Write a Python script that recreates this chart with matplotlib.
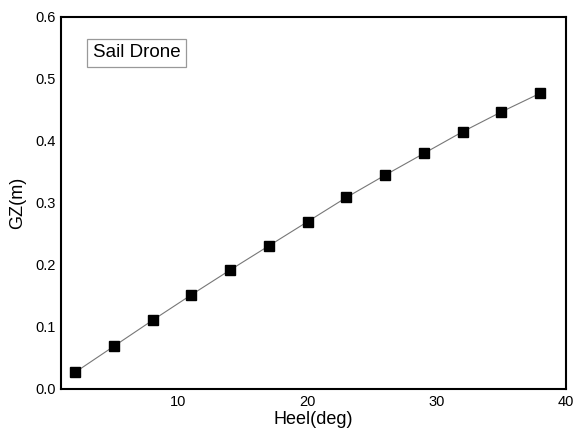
import numpy as np
import matplotlib.pyplot as plt

plt.rcParams['font.family'] = ['Liberation Sans', 'DejaVu Sans']

# GZ curve
heel = [2, 5, 8, 11, 14, 17, 20, 23, 26, 29, 32, 35, 38]
gz = [0.027, 0.069, 0.111, 0.152, 0.192, 0.231, 0.270, 0.309, 0.345, 0.380, 0.415, 0.447, 0.477]

fig = plt.figure(figsize=(5.8, 4.32), dpi=100)
ax = fig.add_axes([61 / 580, 1 - 389 / 432, 505 / 580, 372 / 432])

ax.plot(heel, gz, color='#777777', lw=0.8, marker='s', ms=6.5,
        mfc='black', mec='black', zorder=3)

ax.set_xlim(0.9, 40)
ax.set_ylim(0, 0.6)
ax.set_xticks([10, 20, 30, 40])
ax.set_yticks([0.0, 0.1, 0.2, 0.3, 0.4, 0.5, 0.6])
ax.set_yticklabels(['0.0', '0.1', '0.2', '0.3', '0.4', '0.5', '0.6'])
ax.tick_params(length=0, labelsize=10.5, pad=4)
for s in ax.spines.values():
    s.set_linewidth(1.5)

ax.set_xlabel('Heel(deg)', fontsize=13, labelpad=2)
ax.set_ylabel('GZ(m)', fontsize=13, labelpad=6)

ax.text(0.063, 0.904, 'Sail Drone', transform=ax.transAxes, fontsize=13.5,
        va='center', ha='left',
        bbox=dict(boxstyle='square,pad=0.3', fc='white', ec='#999999', lw=0.9))

fig.savefig('out.png', dpi=100)
